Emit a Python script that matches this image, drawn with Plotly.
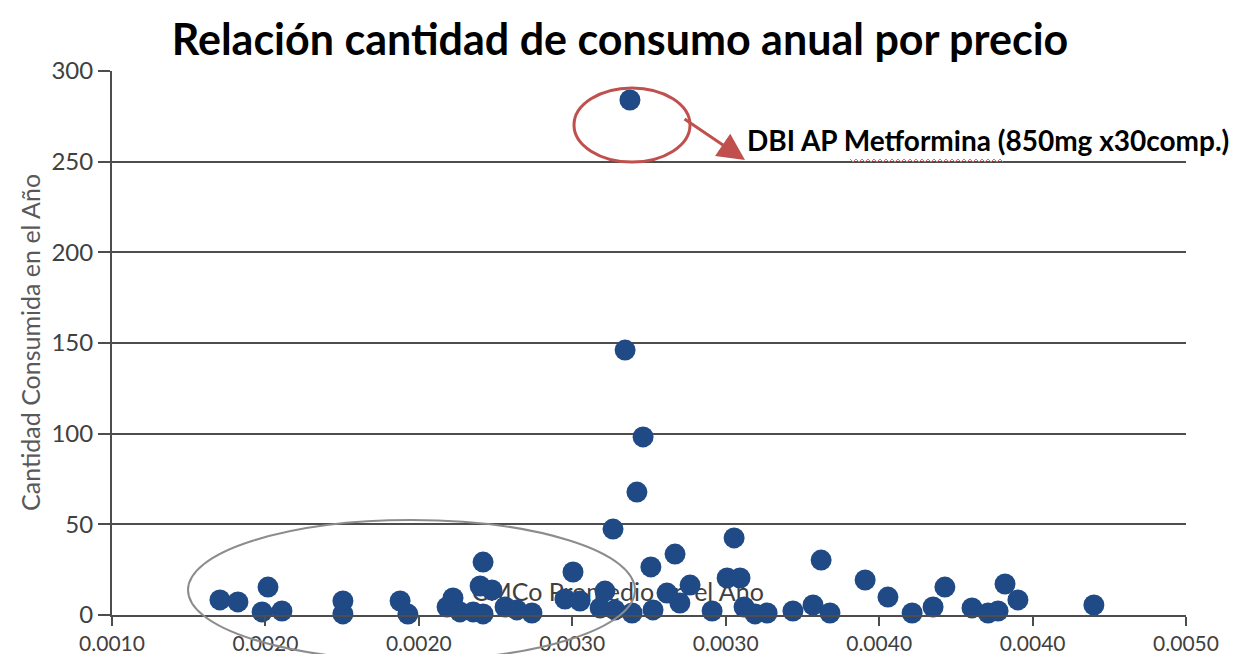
import numpy as np
import plotly.graph_objects as go

# Data
precio = [0.001402, 0.001469, 0.001581, 0.001559, 0.001633, 0.001860, 0.001860, 0.002073, 0.002102,
          0.002248, 0.002270, 0.002296, 0.002345, 0.002382, 0.002382, 0.002371, 0.002415, 0.002464,
          0.002508, 0.002564, 0.002717, 0.002687, 0.002743, 0.002836, 0.002866, 0.002818, 0.002873,
          0.002937, 0.002911, 0.002929, 0.002978, 0.002955, 0.003007, 0.003015, 0.003097, 0.003067,
          0.003153, 0.003115, 0.003235, 0.003317, 0.003291, 0.003339, 0.003354, 0.003395, 0.003440,
          0.003536, 0.003611, 0.003674, 0.003641, 0.003805, 0.003890, 0.003980, 0.004058, 0.004102,
          0.004203, 0.004263, 0.004300, 0.004326, 0.004374, 0.004657]
cantidad = [8.3, 7.2, 15.4, 1.7, 2.2, 7.7, 0.6, 7.7, 0.5,
            4.4, 9.4, 1.7, 1.7, 0.6, 29.2, 16.0, 13.8, 4.4,
            2.8, 1.1, 23.7, 8.8, 7.7, 13.2, 47.4, 3.9, 2.8,
            1.1, 146.1, 284.0, 98.2, 67.8, 26.5, 2.8, 33.6, 12.1,
            16.5, 6.6, 2.2, 42.5, 20.4, 20.4, 4.4, 0.6, 1.1,
            2.2, 5.5, 1.1, 30.3, 19.3, 9.9, 1.1, 4.4, 15.4,
            3.9, 1.1, 2.2, 17.1, 8.3, 5.5]

x_min, x_max = 0.001, 0.005
x_tick_text = ["0.0010", "0.0020", "0.0020", "0.0030", "0.0030", "0.0040", "0.0040", "0.0050"]
y_ticks = [0, 50, 100, 150, 200, 250, 300]

titulo = "Relación cantidad de consumo anual por precio"
y_titulo = "Cantidad Consumida en el Año"
etiqueta_punto = "DBI AP Metformina (850mg x30comp.)"
etiqueta_grupo = "CMCo Promedio en el Año"

FONT = "Lato"
GRID = "#4d4d4d"
BLUE = "#1f4a86"
RED = "#c0504d"

# page offset (body margin) and figure size
OFF = 8
W, H = 1240, 646
PL, PR, PT, PB = 112, 1186, 71, 615  # plot box in screen pixels

fig = go.Figure()

# label under the points
fig.add_trace(go.Scatter(
    x=[0.00234], y=[11], mode="text", text=[etiqueta_grupo],
    textposition="middle right",
    textfont=dict(family=FONT, size=25, color="#404040"),
    hoverinfo="skip", showlegend=False, cliponaxis=False))

fig.add_trace(go.Scatter(
    x=precio, y=cantidad, mode="markers",
    marker=dict(size=21, color=BLUE, line=dict(width=0)),
    showlegend=False, cliponaxis=False))

tickvals = list(np.linspace(x_min, x_max, len(x_tick_text)))

fig.update_layout(
    width=W, height=H,
    margin=dict(l=PL - OFF, r=W + OFF - PR, t=PT - OFF, b=H + OFF - PB, autoexpand=False),
    paper_bgcolor="white", plot_bgcolor="white",
    font=dict(family=FONT, color="#404040"),
    title=dict(text="<b>" + titulo + "</b>", x=(620 - OFF) / W, xanchor="center",
               y=1 - (40 - OFF) / H, yanchor="middle",
               font=dict(family=FONT, size=43, color="black")),
    xaxis=dict(range=[x_min, x_max], tickvals=tickvals, ticktext=x_tick_text,
               showgrid=False, zeroline=False, showline=True, linecolor=GRID, linewidth=2,
               ticks="outside", ticklen=9, tickwidth=2, tickcolor=GRID,
               tickfont=dict(family=FONT, size=21, color="#404040")),
    yaxis=dict(range=[0, 300], tickvals=y_ticks,
               showgrid=True, gridcolor=GRID, gridwidth=2,
               zeroline=True, zerolinecolor=GRID, zerolinewidth=2,
               showline=True, linecolor=GRID, linewidth=2,
               ticks="outside", ticklen=12, tickwidth=2, tickcolor=GRID,
               tickfont=dict(family=FONT, size=24, color="#404040")),
    showlegend=False,
)

def px(xp):
    return (xp - PL) / (PR - PL)

def py(yp):
    return (PB - yp) / (PB - PT)

# gray ellipse
fig.add_shape(type="circle", xref="paper", yref="paper",
              x0=px(188), x1=px(635), y0=py(660), y1=py(520),
              line=dict(color="#8c8c8c", width=2), layer="above")
# red ellipse
fig.add_shape(type="circle", xref="paper", yref="paper",
              x0=px(574), x1=px(690), y0=py(162), y1=py(88),
              line=dict(color=RED, width=3), layer="above")
# arrow
fig.add_annotation(xref="paper", yref="paper", x=px(745), y=py(160),
                   ax=683 - 745, ay=118 - 160, text="", showarrow=True,
                   arrowhead=2, arrowsize=1.8, arrowwidth=3, arrowcolor=RED)
# label
fig.add_annotation(xref="paper", yref="paper", x=px(745), y=py(140),
                   xanchor="left", yanchor="middle", showarrow=False,
                   text="<b>" + etiqueta_punto + "</b>",
                   font=dict(family=FONT, size=28, color="black"))
# spell-check wavy underline (decoration)
wave = []
for i, xp in enumerate(range(850, 1006, 3)):
    yp = 159 if i % 2 == 0 else 162
    wave.append(("M" if i == 0 else "L") + f"{px(xp):.5f},{py(yp):.5f}")
fig.add_shape(type="path", xref="paper", yref="paper", path=" ".join(wave),
              line=dict(color="#e06a6a", width=1))
# y title
fig.add_annotation(xref="paper", yref="paper", x=px(30), y=0.5,
                   xanchor="center", yanchor="middle", showarrow=False,
                   textangle=-90, text=y_titulo,
                   font=dict(family=FONT, size=25, color="#595959"))

fig.write_html("out.html")
